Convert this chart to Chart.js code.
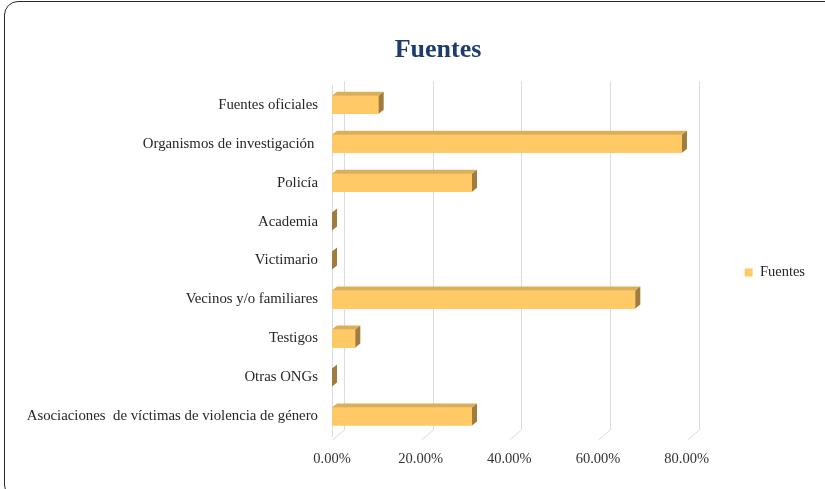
<!DOCTYPE html>
<html>
<head>
<meta charset="utf-8">
<script src="https://cdn.jsdelivr.net/npm/chart.js@4.4.1/dist/chart.umd.min.js"></script>
<style>
  html, body { margin:0; padding:0; background:#fff; overflow:hidden; }
  #marco { position:absolute; left:4px; top:1px; width:900px; height:496px;
           border:1.5px solid #2a2a2a; border-radius:14px; }
  #grafico { position:absolute; left:0; top:0; }
</style>
</head>
<body>
<div id="marco"></div>
<canvas id="grafico" width="825" height="489"></canvas>
<script>
// datos (porcentaje de fuentes)
const categorias = [
  "Fuentes oficiales",
  "Organismos de investigación ",
  "Policía",
  "Academia",
  "Victimario",
  "Vecinos y/o familiares",
  "Testigos",
  "Otras ONGs",
  "Asociaciones  de víctimas de violencia de género"
];
const valores = [10.53, 78.95, 31.58, 0, 0, 68.42, 5.26, 0, 31.58];
const ticksX = [0, 20, 40, 60, 80];
const serie = "Fuentes";

const serif = "'Liberation Serif', 'Times New Roman', serif";

// caras superior y lateral de las barras (efecto 3D)
const barras3D = {
  id: "barras3D",
  beforeDatasetsDraw(chart){
    // cuadricula de fondo + lineas diagonales del piso
    const ctx = chart.ctx, area = chart.chartArea, x = chart.scales.x;
    ctx.save();
    ctx.strokeStyle = "#d9dbe6";
    ctx.lineWidth = 1;
    ticksX.forEach(t => {
      const px = Math.round(x.getPixelForValue(t)) + 0.5;
      ctx.beginPath();
      ctx.moveTo(px + 12, area.top - 4);
      ctx.lineTo(px + 12, area.bottom - 6);
      ctx.lineTo(px, area.bottom + 4);
      ctx.stroke();
    });
    ctx.restore();
  },
  afterDatasetsDraw(chart){
    const ctx = chart.ctx;
    const dx = 5, dy = 4;
    chart.getDatasetMeta(0).data.forEach(bar => {
      const p = bar.getProps(["x","y","base","height"], true);
      const top = p.y - p.height/2, bottom = p.y + p.height/2;
      ctx.save();
      ctx.fillStyle = "#dcae5a";
      ctx.beginPath();
      ctx.moveTo(p.base, top);
      ctx.lineTo(p.base + dx, top - dy);
      ctx.lineTo(p.x + dx, top - dy);
      ctx.lineTo(p.x, top);
      ctx.closePath();
      ctx.fill();
      ctx.fillStyle = "#a07c3e";
      ctx.beginPath();
      ctx.moveTo(p.x, top);
      ctx.lineTo(p.x + dx, top - dy);
      ctx.lineTo(p.x + dx, bottom - dy);
      ctx.lineTo(p.x, bottom);
      ctx.closePath();
      ctx.fill();
      ctx.restore();
    });
  }
};

// mover titulo y leyenda a su sitio
const ajustes = {
  id: "ajustes",
  afterLayout(chart){
    const t = chart.titleBlock;
    t.left += 41; t.right += 41;
    const l = chart.legend;
    l.left += 48; l.right += 48;
    l.top += 34; l.bottom += 34;
  }
};

const ctx = document.getElementById("grafico").getContext("2d");
const chart = new Chart(ctx, {
  type: "bar",
  data: {
    labels: categorias,
    datasets: [{
      label: serie,
      data: valores,
      backgroundColor: "#ffca66",
      borderWidth: 0,
      barThickness: 18,
      categoryPercentage: 1
    }]
  },
  options: {
    indexAxis: "y",
    responsive: false,
    animation: false,
    layout: { padding: { left: 27, right: 58, top: 10, bottom: 22 } },
    scales: {
      x: {
        min: 0, max: 80,
        afterBuildTicks(axis){ axis.ticks = ticksX.map(v => ({ value: v })); },
        afterFit(axis){ axis.height = 31; },
        grid: { display: false, drawTicks: false },
        border: { display: false },
        ticks: {
          padding: 14,
          maxRotation: 0,
          autoSkip: false,
          color: "#333",
          font: { family: serif, size: 14.5 },
          callback: v => v.toFixed(2) + "%"
        }
      },
      y: {
        afterFit(axis){ axis.width = 305; },
        grid: { display: false, drawTicks: false },
        border: { display: true, color: "#d9dbe6" },
        ticks: {
          padding: 14,
          autoSkip: false,
          color: "#262626",
          font: { family: serif, size: 14.8 }
        }
      }
    },
    plugins: {
      title: {
        display: true,
        text: "Fuentes",
        color: "#1f3d6b",
        font: { family: serif, size: 26, weight: "bold" },
        padding: { top: 25, bottom: 19 }
      },
      legend: {
        position: "right",
        align: "center",
        labels: {
          boxWidth: 8, boxHeight: 8,
          padding: 10,
          color: "#262626",
          font: { family: serif, size: 14.5 }
        }
      },
      tooltip: { enabled: false }
    }
  },
  plugins: [barras3D, ajustes]
});
</script>
</body>
</html>
